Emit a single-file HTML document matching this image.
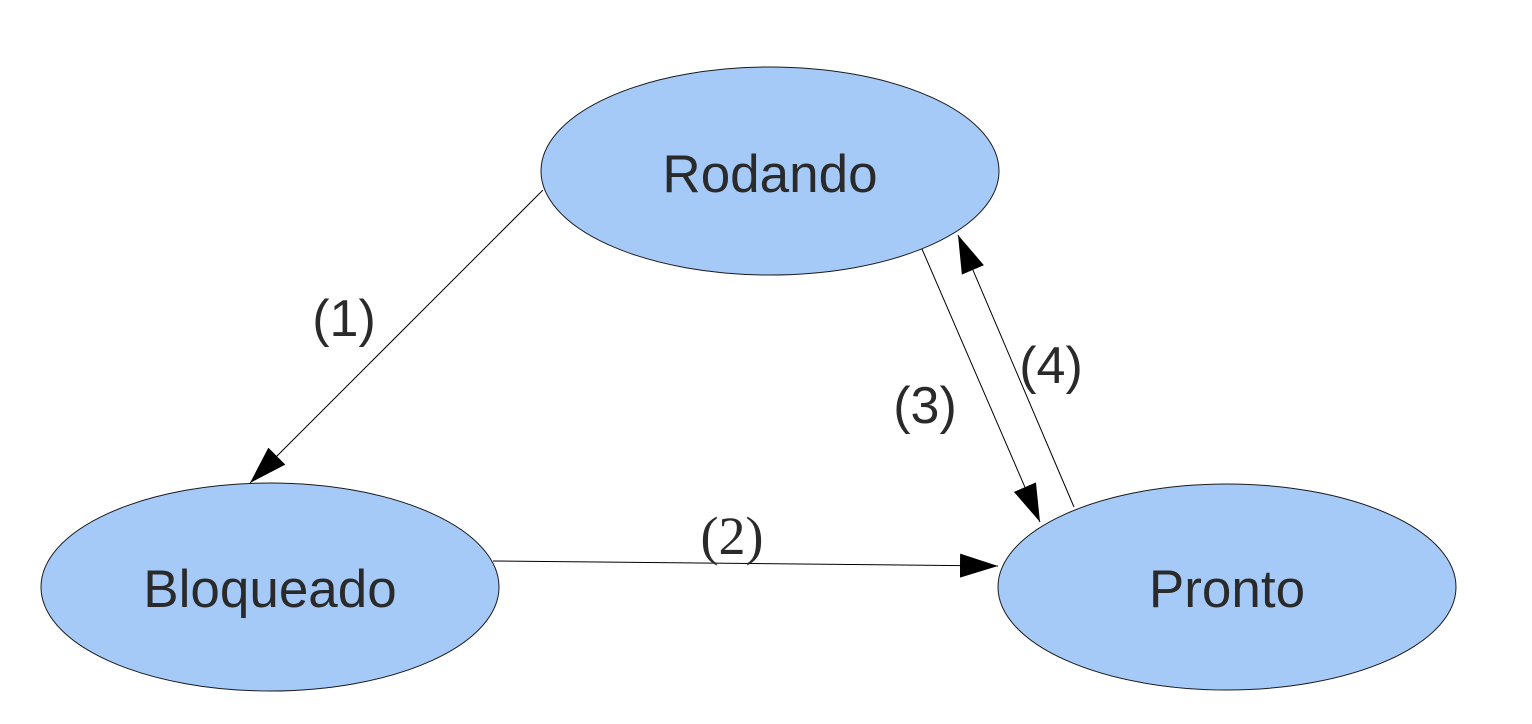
<!DOCTYPE html>
<html><head><meta charset="utf-8"><style>html,body{margin:0;padding:0;background:#fff;}svg{display:block}</style></head>
<body>
<svg width="1532" height="724" viewBox="0 0 1532 724" xmlns="http://www.w3.org/2000/svg">
<defs>
<marker id="a" markerWidth="40" markerHeight="24" refX="38" refY="12" orient="auto" markerUnits="userSpaceOnUse">
<path d="M0,0 L38,12 L0,24 Z" fill="#000"/>
</marker>
</defs>
<g fill="#a6caf8" stroke="#1a1a1a" stroke-width="1">
<ellipse cx="770" cy="171" rx="229" ry="104"/>
<ellipse cx="270" cy="587" rx="229" ry="104"/>
<ellipse cx="1227" cy="587" rx="229" ry="103"/>
</g>
<g stroke="#000" stroke-width="1" fill="none">
<line x1="543" y1="190" x2="250" y2="483" marker-end="url(#a)"/>
<line x1="493" y1="561" x2="998" y2="566" marker-end="url(#a)"/>
<line x1="922" y1="249" x2="1040" y2="522" marker-end="url(#a)"/>
<line x1="1074" y1="507" x2="958" y2="235" marker-end="url(#a)"/>
</g>
<g font-family="Liberation Sans, sans-serif" font-size="53" fill="#2a2a2a" text-anchor="middle">
<text x="770" y="192">Rodando</text>
<text x="270" y="607">Bloqueado</text>
<text x="1227" y="607">Pronto</text>
<g font-size="52">
<text x="344" y="336">(1)</text>
<text x="925" y="423">(3)</text>
<text x="1051" y="383">(4)</text>
</g>
<text x="732" y="554" font-size="54" font-family="Liberation Serif, serif">(2)</text>
</g>
</svg>
</body></html>
